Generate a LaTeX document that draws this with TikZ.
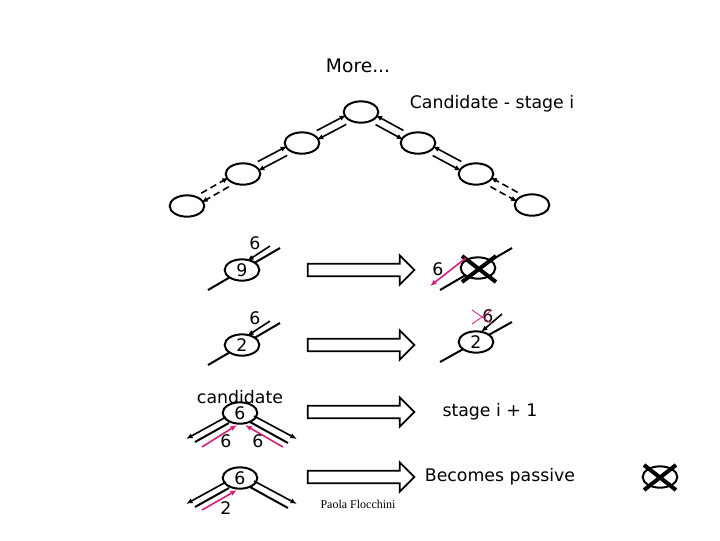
\documentclass[tikz,border=0pt]{standalone}
\usepackage{fontspec}
\setmainfont{DejaVu Sans}
\newfontfamily\serifp{Liberation Serif}
\usetikzlibrary{arrows.meta,shapes.arrows,shapes.geometric}
\definecolor{mag}{RGB}{214,30,120}
\begin{document}
\begin{tikzpicture}[x=0.75pt,y=-0.75pt,
  nd/.style={draw,line width=1.5pt,ellipse,minimum width=26pt,minimum height=16pt,inner sep=0pt,font=\fontsize{13}{15}\selectfont},
  ln/.style={line width=1.5pt},
  ar/.style={line width=1.2pt,-{Latex[length=5pt,width=4pt]}},
  dar/.style={ar,dash pattern=on 5pt off 3pt},
  mar/.style={line width=1.2pt,mag,-{Latex[length=5pt,width=4pt]}},
  big/.style={single arrow,draw,line width=1.3pt,minimum height=80pt,minimum width=22pt,single arrow head extend=5pt,inner sep=3pt},
  txt/.style={font=\fontsize{13}{15}\selectfont},
  xx/.style={line width=3pt}]
\useasboundingbox (0,0) rectangle (720,540);
\node[font=\fontsize{14}{16}\selectfont] (title) at (358,66) {More...};
\node[txt] (cs) at (492,104) {Candidate - stage i};
% tree
\node[nd] (t) at (361,112) {};
\node[nd] (l1) at (302,143) {};
\node[nd] (l2) at (243,174) {};
\node[nd] (l3) at (187,206) {};
\node[nd] (r1) at (418,143) {};
\node[nd] (r2) at (476,174) {};
\node[nd] (r3) at (532,205) {};
\foreach \a/\b/\s in {t/l1/ar,l1/l2/ar,l2/l3/dar,t/r1/ar,r1/r2/ar,r2/r3/dar}{
  \path (\a) -- (\b) coordinate[pos=0.02] (s) coordinate[pos=0.98] (e);
  \draw[\s] ([yshift=-3.5pt]s) -- ([yshift=-3.5pt]e);
  \draw[\s] ([yshift=3.5pt]e) -- ([yshift=3.5pt]s);
}
% row 1
\coordinate (a1) at (208,290); \coordinate (b1) at (280,248);
\draw[ln] (a1) -- (b1);
\node[nd,fill=white] (n9) at (242,270) {9};
\coordinate (s1) at (270,246); \coordinate (e1) at (247,261);
\draw[ar] (s1) -- (e1);
\node[txt] (l6a) at (255,243) {6};
\node[big] (B1) at (358,270) {};
\coordinate (a2) at (440,290); \coordinate (b2) at (512,248);
\draw[ln] (a2) -- (b2);
\node[nd,fill=white] (nx) at (478,268) {};
\draw[xx] (462,256) -- (496,282) (462,282) -- (496,256);
\coordinate (s2) at (466,258); \coordinate (e2) at (430,286);
\draw[mar] (s2) -- (e2);
\node[txt] (l6b) at (438,269) {6};
% row 2
\coordinate (a3) at (208,365); \coordinate (b3) at (280,323);
\draw[ln] (a3) -- (b3);
\node[nd,fill=white] (n2) at (242,345) {2};
\coordinate (s3) at (270,321); \coordinate (e3) at (247,336);
\draw[ar] (s3) -- (e3);
\node[txt] (l6c) at (255,318) {6};
\node[big] (B2) at (358,345) {};
\coordinate (a4) at (440,362); \coordinate (b4) at (512,322);
\draw[ln] (a4) -- (b4);
\node[nd,fill=white] (n2b) at (476,342) {2};
\coordinate (s4) at (502,314); \coordinate (e4) at (481,332);
\draw[ar] (s4) -- (e4);
\node[txt] (l6d) at (488,316) {6};
\draw[mag,line width=0.6pt] (472,310) -- (492,324) (472,324) -- (492,310);
% row 3
\node[txt] (cand) at (240,397) {candidate};
\node[nd] (c6) at (240,413) {6};
\draw[ar] (226,417) -- (186,439);
\draw[ln] (229,423) -- (195,442);
\draw[ar] (254,416) -- (297,439);
\draw[ln] (250,422) -- (288,443);
\coordinate (m1) at (202,447); \coordinate (m2) at (283,447);
\draw[mar] (m1) -- (237,425);
\draw[mar] (m2) -- (245,425);
\node[txt] (l6e) at (226,441) {6};
\node[txt] (l6f) at (258,441) {6};
\node[big] (B3) at (358,412) {};
\node[txt] (st) at (490,412) {stage i + 1};
% row 4
\node[nd] (p6) at (240,478) {6};
\draw[ar] (226,482) -- (186,504);
\draw[ln] (229,488) -- (195,507);
\draw[ar] (254,481) -- (297,504);
\draw[ln] (250,487) -- (288,508);
\coordinate (m3) at (202,510);
\draw[mar] (m3) -- (237,490);
\node[txt] (l2) at (226,508) {2};
\node[big] (B4) at (358,477) {};
\node[txt] (bp) at (500,477) {Becomes passive};
\node[nd] (px) at (660,477) {};
\draw[xx] (644,465) -- (676,490) (644,490) -- (676,465);
\node[font=\serifp\small] (pf) at (358,504) {Paola Flocchini};
\end{tikzpicture}
\end{document}
